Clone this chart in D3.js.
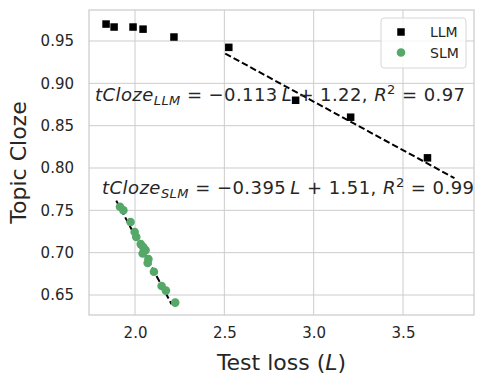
<!DOCTYPE html>
<html>
<head>
<meta charset="utf-8">
<script src="https://cdn.jsdelivr.net/npm/d3@7"></script>
<style>
  html, body { margin: 0; padding: 0; background: #ffffff; }
  svg { display: block; font-family: "DejaVu Sans", sans-serif; }
</style>
</head>
<body>
<svg id="chart" width="483" height="384"></svg>
<script>
// ---- data ----
const llmLoss  = [1.838, 1.883, 1.989, 2.045, 2.218, 2.525, 2.899, 3.207, 3.637];
const llmCloze = [0.970, 0.9665, 0.9665, 0.964, 0.9547, 0.9425, 0.880, 0.860, 0.812];

const slmLoss  = [1.916, 1.935, 1.975, 1.998, 2.007, 2.032, 2.046, 2.059, 2.043, 2.075, 2.071, 2.106, 2.149, 2.173, 2.225];
const slmCloze = [0.7543, 0.750, 0.7362, 0.7244, 0.7185, 0.7101, 0.7065, 0.7030, 0.6990, 0.6926, 0.6879, 0.6774, 0.6607, 0.6552, 0.6410];

const fitNames      = ["LLM", "SLM"];
const fitSlopes     = [-0.113, -0.395];
const fitIntercepts = [1.22, 1.51];
const fitR2         = [0.97, 0.99];
const fitRangeStart = [2.505, 1.895];
const fitRangeEnd   = [3.788, 2.205];
const fitDrawIntercepts = [1.2225, 1.51];
const fitDrawSlopes     = [-0.1147, -0.395];

const xTicks = [2.0, 2.5, 3.0, 3.5];
const yTicks = [0.65, 0.70, 0.75, 0.80, 0.85, 0.90, 0.95];
const xDomain = [1.7425, 3.8974];
const yDomain = [0.62638, 0.98661];

const legendLabels = ["LLM", "SLM"];
const colors = { LLM: "#000000", SLM: "#55a868" };

// ---- layout ----
const svg = d3.select("#chart");
const margin = { left: 89, right: 483 - 474, top: 10, bottom: 384 - 315 };
const W = 483, H = 384;
const x = d3.scaleLinear().domain(xDomain).range([margin.left, W - margin.right]);
const y = d3.scaleLinear().domain(yDomain).range([H - margin.bottom, margin.top]);
const textColor = "#262626";
const gridColor = "#cccccc";

// grid
const g = svg.append("g");
g.append("g").selectAll("line").data(xTicks).join("line")
  .attr("x1", d => x(d)).attr("x2", d => x(d))
  .attr("y1", y.range()[0]).attr("y2", y.range()[1])
  .attr("stroke", gridColor).attr("stroke-width", 1);
g.append("g").selectAll("line").data(yTicks).join("line")
  .attr("y1", d => y(d)).attr("y2", d => y(d))
  .attr("x1", x.range()[0]).attr("x2", x.range()[1])
  .attr("stroke", gridColor).attr("stroke-width", 1);

// axes via d3 (tick labels only)
const xAxis = d3.axisBottom(x).tickValues(xTicks).tickFormat(d3.format(".1f")).tickSize(0).tickPadding(12);
const yAxis = d3.axisLeft(y).tickValues(yTicks).tickFormat(d3.format(".2f")).tickSize(0).tickPadding(15);
const gx = svg.append("g").attr("transform", `translate(0,${y.range()[0]})`).call(xAxis);
const gy = svg.append("g").attr("transform", `translate(${x.range()[0]},0)`).call(yAxis);
[gx, gy].forEach(a => {
  a.select(".domain").remove();
  a.selectAll("text").attr("fill", textColor).style("font-size", "15px").style("font-family", "DejaVu Sans");
});

// spines
svg.append("rect")
  .attr("x", x.range()[0]).attr("y", y.range()[1])
  .attr("width", x.range()[1] - x.range()[0])
  .attr("height", y.range()[0] - y.range()[1])
  .attr("fill", "none").attr("stroke", gridColor).attr("stroke-width", 1.25);

// fit lines
fitNames.forEach((n, i) => {
  const xs = [fitRangeStart[i], fitRangeEnd[i]];
  svg.append("path")
    .datum(xs)
    .attr("d", d3.line().x(d => x(d)).y(d => y(fitDrawIntercepts[i] + fitDrawSlopes[i] * d)))
    .attr("stroke", "#000").attr("stroke-width", 2).attr("fill", "none")
    .attr("stroke-dasharray", "6.5,3");
});

// LLM squares
const sq = 7.5;
svg.append("g").selectAll("rect").data(llmLoss.map((d, i) => [d, llmCloze[i]])).join("rect")
  .attr("x", d => x(d[0]) - sq / 2).attr("y", d => y(d[1]) - sq / 2)
  .attr("width", sq).attr("height", sq).attr("fill", colors.LLM);

// SLM circles
svg.append("g").selectAll("circle").data(slmLoss.map((d, i) => [d, slmCloze[i]])).join("circle")
  .attr("cx", d => x(d[0])).attr("cy", d => y(d[1])).attr("r", 4.3)
  .attr("fill", colors.SLM);

// equations
const eqPos = [{ x: 95, y: 101, w: 370 }, { x: 102, y: 194, w: 372 }];
fitNames.forEach((n, i) => {
  const t = svg.append("text")
    .attr("x", eqPos[i].x).attr("y", eqPos[i].y)
    .attr("fill", textColor).style("font-size", "18px")
    .attr("textLength", eqPos[i].w).attr("lengthAdjust", "spacing");
  t.append("tspan").style("font-style", "italic").text("tCloze");
  t.append("tspan").style("font-style", "italic").style("font-size", "13px").attr("dy", 3.5).text(n);
  t.append("tspan").attr("dy", -3.5).text(" = \u2212" + Math.abs(fitSlopes[i]).toFixed(3) + "\u2009");
  t.append("tspan").style("font-style", "italic").text("L");
  t.append("tspan").text(" + " + fitIntercepts[i].toFixed(2) + ",  ");
  t.append("tspan").style("font-style", "italic").text("R");
  t.append("tspan").style("font-size", "13px").attr("dy", -7).text("2");
  t.append("tspan").attr("dy", 7).text(" = " + fitR2[i].toFixed(2));
});

// legend
const lg = svg.append("g");
lg.append("rect").attr("x", 381).attr("y", 18).attr("width", 85).attr("height", 50)
  .attr("rx", 3).attr("fill", "#ffffff").attr("fill-opacity", 0.8)
  .attr("stroke", "#d6d6d6").attr("stroke-width", 1);
legendLabels.forEach((lab, i) => {
  const cy = 32 + i * 20.5;
  if (lab === "LLM") {
    lg.append("rect").attr("x", 401 - sq / 2).attr("y", cy - sq / 2).attr("width", sq).attr("height", sq).attr("fill", colors.LLM);
  } else {
    lg.append("circle").attr("cx", 401).attr("cy", cy).attr("r", 4.3).attr("fill", colors.SLM);
  }
  lg.append("text").attr("x", 430).attr("y", cy + 5).attr("fill", textColor)
    .style("font-size", "14px").text(lab);
});

// axis labels
const xl = svg.append("text").attr("x", (x.range()[0] + x.range()[1]) / 2).attr("y", 370)
  .attr("text-anchor", "middle").attr("fill", textColor).style("font-size", "22px");
xl.append("tspan").text("Test loss (");
xl.append("tspan").style("font-style", "italic").text("L");
xl.append("tspan").text(")");

svg.append("text")
  .attr("transform", `translate(26,${(y.range()[0] + y.range()[1]) / 2}) rotate(-90)`)
  .attr("text-anchor", "middle").attr("fill", textColor).style("font-size", "22px")
  .text("Topic Cloze");
</script>
</body>
</html>
